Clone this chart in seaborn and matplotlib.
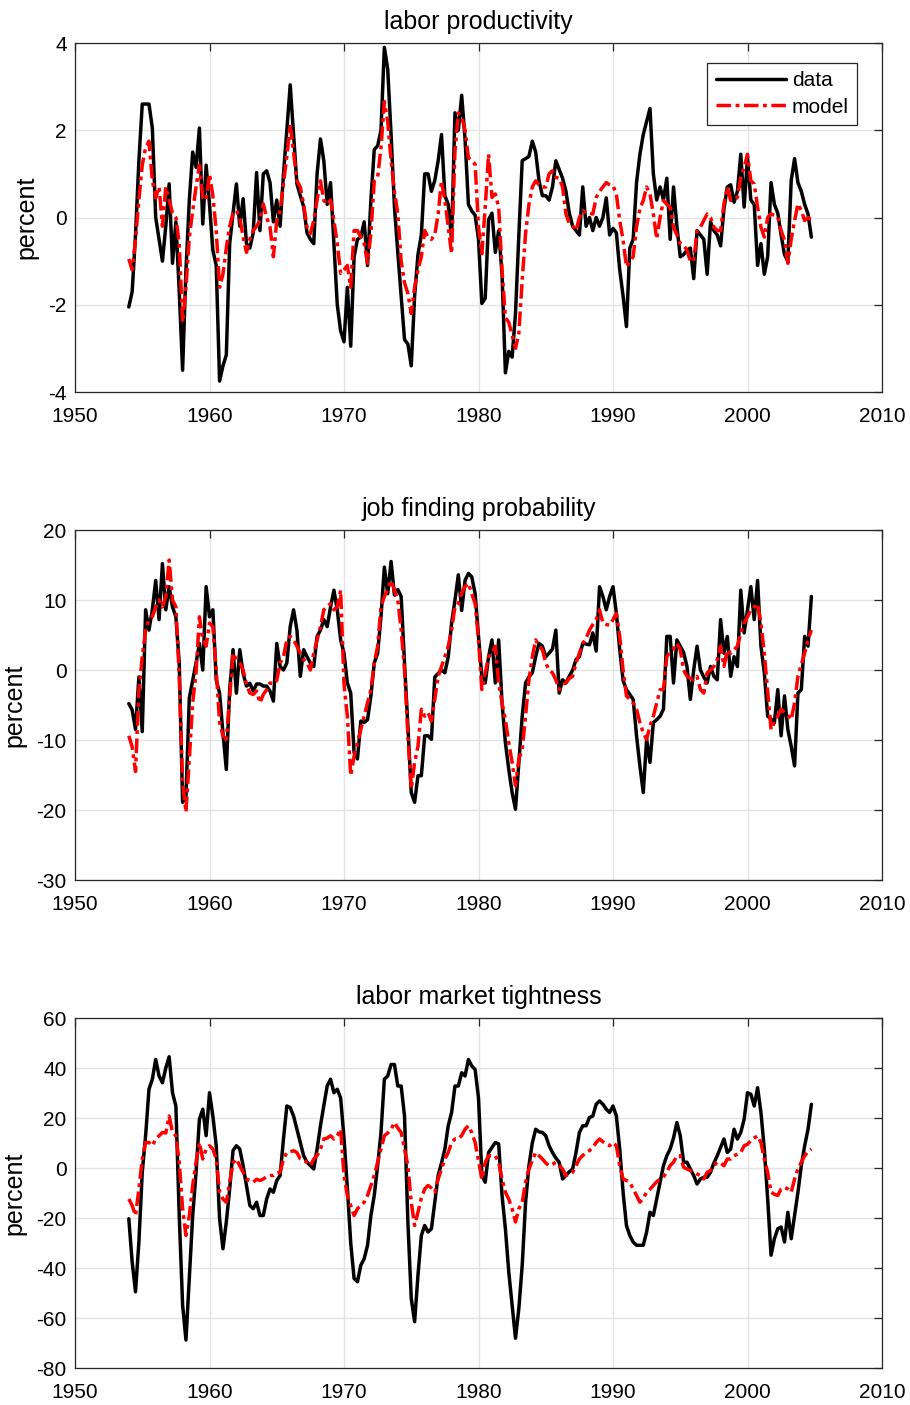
import numpy as np
import pandas as pd
import matplotlib
matplotlib.use("Agg")
import matplotlib.pyplot as plt
import seaborn as sns

# ---------------- data (quarterly, 1954Q1 - 2004Q4) ----------------
start_year = 1954

prod_data = [
    -2.05, -1.7, -0.4, 1.3,   2.6, 2.6, 2.6, 2.05,   0.0, -0.5, -1.0, -0.2,   0.77, -1.05, -0.1, -1.7,
    -3.5, -1.2, 0.4, 1.5,   1.15, 2.05, -0.15, 1.2,   0.3, -0.75, -1.1, -3.75,   -3.4, -3.15, -0.6, 0.1,
    0.77, -0.2, 0.43, -0.6,   -0.7, -0.35, 1.03, -0.3,   1.0, 1.07, 0.8, -0.1,   0.4, -0.2, 1.0, 2.0,
    3.04, 1.9, 0.77, 0.5,   0.25, -0.35, -0.5, -0.6,   1.0, 1.8, 1.3, 0.3,   0.8, -0.6, -2.0, -2.6,
    -2.85, -1.6, -2.95, -0.9,   -0.5, -0.45, -0.1, -1.1,   0.4, 1.56, 1.64, 2.0,   3.9, 3.4, 1.9, 0.25,
    -0.8, -1.8, -2.8, -2.9,   -3.4, -1.8, -0.85, -0.4,   1.0, 1.0, 0.6, 0.85,   1.3, 1.9, 0.5, 0.3,
    -0.5, 2.4, 2.0, 2.8,   1.8, 0.3, 0.15, 0.05,   -0.5, -1.97, -1.85, -0.05,   0.1, -0.8, -0.3, -1.3,
    -3.56, -3.07, -3.2, -2.2,   -0.4, 1.3, 1.35, 1.4,   1.75, 1.5, 0.84, 0.5,   0.5, 0.4, 0.7, 1.3,
    1.1, 0.9, 0.6, 0.1,   -0.2, -0.3, -0.4, 0.7,   -0.2, 0.0, -0.3, 0.0,   -0.2, 0.0, 0.45, -0.4,
    -0.25, -0.35, -1.2, -1.8,   -2.5, -0.7, -0.5, 0.8,   1.45, 1.9, 2.2, 2.5,   1.0, 0.4, 0.7, 0.4,
    0.9, -0.5, 0.7, -0.2,   -0.9, -0.85, -0.75, -0.7,   -1.4, -0.3, -0.4, -0.5,   -1.3, -0.1, -0.3, -0.4,
    -0.65, 0.2, 0.7, 0.75,   0.35, 0.6, 1.45, 0.24,   1.37, 0.4, 0.3, -1.1,   -0.6, -1.3, -0.9, 0.8,
    0.3, 0.1, -0.4, -0.85,   -1.0, 0.85, 1.35, 0.8,   0.6, 0.3, 0.08, -0.45,
]

prod_model = [
    -0.95, -1.2, -0.5, 0.4,   1.2, 1.6, 1.75, 0.85,   0.45, 0.7, -0.2, 0.7,   0.4, 0.1, 0.0, -0.6,
    -2.4, -1.6, -0.45, 0.15,   0.7, 1.2, 0.45, 0.4,   1.0, 0.5, -0.3, -1.6,   -1.3, -0.7, -0.2, 0.1,
    0.16, 0.0, -0.45, -0.8,   -0.5, -0.3, -0.2, -0.07,   0.31, 0.0, -0.22, -0.9,   -0.07, 0.16, 0.77, 1.4,
    2.13, 1.5, 0.84, 0.7,   0.3, -0.22, -0.37, -0.07,   0.4, 0.84, 0.39, 0.3,   0.4, -0.07, -0.6, -1.28,
    -1.2, -1.1, -1.6, -0.3,   -0.3, -0.45, -0.6, -1.05,   -0.37, 0.84, 0.92, 1.6,   2.66, 2.2, 1.3, 0.6,
    0.08, -1.0, -1.5, -1.74,   -2.2, -1.6, -1.2, -0.9,   -0.3, -0.45, -0.5, -0.4,   0.08, 0.84, 0.39, -0.22,
    -0.83, 1.52, 2.4, 2.3,   2.0, 1.37, 1.3, 1.22,   -0.22, -0.83, 0.24, 1.45,   0.46, 0.54, 0.24, -1.2,
    -2.3, -2.4, -2.7, -3.0,   -2.65, -1.43, -0.37, 0.3,   0.7, 0.84, 0.75, 0.7,   0.7, 1.0, 1.07, 0.92,
    0.9, 0.7, 0.08, -0.14,   -0.2, -0.3, 0.0, 0.16,   0.1, 0.1, 0.08, 0.46,   0.6, 0.7, 0.8, 0.75,
    0.73, 0.54, -0.07, -0.52,   -1.13, -1.0, -0.9, -0.22,   0.2, 0.39, 0.7, 0.54,   0.08, -0.49, 0.0, 0.39,
    0.3, 0.24, -0.22, -0.4,   -0.6, -0.64, -0.75, -1.0,   -1.0, -0.3, -0.22, -0.07,   0.08, 0.0, -0.22, -0.3,
    -0.3, 0.31, 0.7, 0.39,   0.4, 0.46, 0.92, 1.15,   1.45, 0.84, 0.77, 0.24,   -0.22, -0.45, 0.0, 0.08,
    0.05, 0.0, -0.3, -0.52,   -1.05, -0.5, -0.07, 0.31,   0.16, -0.07, 0.0, -0.05,
]

find_data = [
    -4.8, -5.7, -8.5, -1.0,   -8.8, 8.6, 5.7, 8.6,   12.8, 7.2, 15.2, 8.6,   11.9, 9.0, 7.6, 1.0,
    -18.9, -18.0, -4.0, -1.5,   1.0, 3.8, 0.0, 11.9,   7.6, 8.6, -1.4, -3.3,   -9.0, -14.2, -2.8, 2.9,
    -3.3, 2.9, -0.5, -2.3,   -1.9, -3.0, -2.0, -2.0,   -2.3, -2.3, -3.0, -4.45,   3.8, 0.5, 0.0, 1.0,
    6.2, 8.6, 5.7, -0.9,   2.9, 1.9, 1.0, 0.5,   4.8, 5.7, 7.2, 6.2,   9.0, 11.4, 8.6, 4.3,
    2.4, -1.85, -3.3, -11.8,   -12.7, -7.3, -7.5, -7.1,   -3.7, 1.0, 2.4, 7.6,   14.7, 10.9, 15.5, 10.7,
    11.5, 10.5, 1.0, -8.0,   -17.5, -18.9, -15.1, -15.1,   -9.4, -9.4, -9.9, -1.0,   -0.5, 0.0, -0.4, 1.9,
    6.7, 10.0, 13.6, 8.5,   12.8, 13.8, 13.3, 10.9,   4.8, -0.9, -1.85, 1.9,   4.3, -1.85, 4.3, -4.7,
    -10.4, -14.2, -17.5, -19.9,   -13.2, -6.6, -1.85, -1.0,   -0.4, 1.9, 3.8, 3.4,   1.9, 2.4, 3.0, 5.7,
    -3.3, -1.4, -1.85, -0.9,   0.0, 1.5, 1.9, 3.8,   3.7, 3.6, 5.3, 2.7,   11.9, 10.5, 8.6, 10.5,
    11.9, 8.1, 2.9, -1.5,   -2.8, -3.5, -4.2, -9.4,   -13.7, -17.5, -9.9, -13.2,   -7.5, -7.1, -6.6, -5.6,
    4.8, 4.8, -1.85, 4.3,   3.4, 2.5, 0.5, -4.2,   0.0, 3.4, 0.0, -1.0,   -1.85, 0.5, -0.9, -1.4,
    7.2, 2.4, 4.8, -0.9,   1.9, 0.5, 11.4, 5.3,   8.6, 11.9, 7.2, 12.8,   3.4, -0.4, -6.6, -7.0,
    -7.5, -2.8, -9.4, -3.7,   -8.5, -10.9, -13.7, -3.3,   -2.8, 4.8, 3.4, 10.5,
]

find_model = [
    -9.4, -11.0, -14.5, -3.0,   1.9, 5.7, 7.2, 7.6,   9.0, 10.0, 9.0, 10.5,   15.7, 10.0, 9.0, -0.9,
    -16.1, -20.3, -12.7, -4.7,   -0.4, 7.6, 4.3, 3.4,   6.7, 6.2, 0.0, -7.5,   -9.4, -9.9, -4.0, 2.4,
    1.5, 1.0, 0.0, -2.0,   -3.3, -3.5, -3.0, -4.7,   -3.5, -2.8, -1.85, -2.0,   -1.5, 1.0, 1.9, 4.3,
    4.8, 4.3, 3.4, 2.4,   1.5, 1.0, 0.0, 2.4,   4.3, 6.2, 8.6, 9.0,   9.5, 8.6, 9.0, 11.4,
    -2.0, -6.6, -15.1, -12.3,   -10.4, -8.5, -6.6, -4.7,   -2.8, 1.0, 3.4, 9.05,   10.5, 11.5, 12.8, 11.4,
    10.0, 5.7, 0.0, -9.4,   -17.0, -13.2, -10.9, -5.6,   -6.6, -6.1, -7.3, -4.2,   -0.9, 0.5, 1.9, 3.4,
    5.7, 9.05, 9.5, 11.0,   11.9, 12.4, 10.9, 9.5,   4.3, -2.8, -0.4, 1.9,   2.4, 3.4, -1.85, -4.7,
    -7.1, -10.4, -13.2, -16.5,   -12.7, -11.3, -6.6, -1.4,   1.9, 4.3, 3.4, 2.9,   1.0, 0.0, -0.4, -1.4,
    -2.8, -2.0, -1.85, -1.2,   -0.9, 1.0, 2.4, 3.8,   4.5, 5.7, 6.5, 7.2,   8.6, 6.7, 6.5, 6.4,
    7.2, 8.1, 4.8, 0.0,   -3.7, -4.2, -4.7, -5.6,   -7.5, -9.0, -9.9, -8.0,   -6.6, -4.7, -2.8, -2.8,
    1.9, 2.5, 3.0, 3.8,   2.9, 0.0, -0.9, -1.2,   -1.4, -0.9, -2.8, -3.3,   -0.4, 0.0, 0.5, 1.5,
    3.4, 0.5, 2.9, 2.4,   2.9, 3.4, 5.3, 6.7,   7.6, 8.6, 9.0, 9.5,   6.7, 2.4, -3.0, -8.5,
    -7.5, -6.6, -5.6, -6.1,   -6.5, -7.1, -4.7, -0.9,   0.8, 2.4, 4.3, 5.7,
]

tight_data = [
    -20.3, -37.6, -49.5, -29.6,   -1.7, 12.9, 31.5, 35.5,   43.4, 36.8, 34.1, 40.0,   44.5, 30.1, 24.8, -19.0,
    -54.8, -68.8, -44.2, -19.0,   -1.7, 19.5, 23.5, 12.9,   30.1, 20.8, 8.9, -20.3,   -32.3, -21.6, -8.4, 7.0,
    8.9, 7.6, 0.9, -7.0,   -15.0, -16.3, -13.7, -19.0,   -19.0, -12.4, -8.4, -9.7,   -5.0, -3.0, 11.6, 24.8,
    24.2, 20.8, 15.5, 10.2,   4.9, 2.3, 1.0, -0.4,   7.6, 16.9, 25.0, 32.8,   35.5, 30.1, 31.5, 28.0,
    12.0, -8.0, -30.0, -44.2,   -45.5, -38.9, -36.3, -30.9,   -19.0, -11.0, 0.9, 14.2,   35.5, 36.8, 41.4, 41.4,
    32.8, 32.8, 20.8, -21.6,   -52.2, -61.5, -42.9, -27.0,   -23.0, -25.6, -24.3, -13.7,   -3.0, 2.0, 7.6, 16.9,
    22.2, 32.8, 32.8, 38.1,   36.8, 43.4, 40.8, 39.4,   28.0, -3.0, -5.7, 6.2,   8.2, 10.2, 9.6, -11.0,
    -24.3, -41.6, -54.8, -68.1,   -56.2, -38.9, -13.7, 0.9,   10.0, 15.5, 14.5, 14.2,   12.9, 8.9, 6.2, 4.0,
    2.3, -4.4, -3.0, -1.5,   -0.4, 6.2, 14.2, 16.9,   16.9, 20.2, 20.8, 25.5,   26.8, 25.5, 23.5, 22.2,
    24.8, 20.8, 7.6, -9.7,   -23.0, -27.0, -29.6, -30.9,   -30.9, -30.9, -25.6, -17.7,   -19.0, -12.4, -5.7, 0.9,
    4.9, 7.6, 12.0, 18.2,   12.9, 2.3, 2.3, -0.4,   -3.0, -6.4, -4.4, -3.7,   -3.7, -1.7, 2.0, 4.9,
    8.2, 11.6, 6.2, 7.6,   15.5, 11.6, 14.2, 19.5,   30.1, 29.5, 24.8, 32.1,   22.2, 7.6, -12.4, -34.9,
    -28.3, -24.3, -23.6, -29.6,   -17.7, -28.3, -19.0, -9.7,   0.9, 8.9, 15.5, 25.5,
]

tight_model = [
    -12.4, -15.0, -19.0, -8.4,   3.6, 10.2, 10.2, 8.9,   11.6, 12.9, 14.2, 14.0,   20.8, 14.2, 12.9, 2.3,
    -16.3, -27.0, -19.0, -7.0,   2.3, 10.2, 3.6, 7.6,   8.9, 7.6, 3.6, -9.7,   -12.4, -13.7, -5.7, 2.0,
    3.6, 0.9, -1.7, -4.4,   -5.0, -5.7, -4.5, -5.0,   -4.4, -3.5, -3.0, -3.0,   -2.0, -1.7, 3.6, 6.2,
    6.5, 6.9, 6.2, 3.6,   3.0, 2.3, 0.9, 3.6,   5.0, 7.6, 11.6, 12.0,   12.9, 11.6, 13.0, 15.5,
    -3.0, -11.0, -15.0, -19.0,   -16.3, -15.0, -13.7, -11.0,   -7.0, -3.0, 2.3, 7.6,   12.9, 14.0, 15.5, 18.2,
    16.0, 14.2, 7.6, 0.9,   -13.7, -23.0, -17.7, -12.0,   -8.4, -7.0, -8.0, -9.7,   -4.4, -0.4, 3.6, 6.2,
    10.2, 11.6, 11.6, 13.0,   15.5, 16.9, 14.2, 10.2,   3.0, -4.4, 2.3, 4.9,   4.9, 4.9, 2.3, -4.4,
    -9.7, -12.4, -16.3, -21.6,   -16.3, -13.7, -5.7, -0.4,   3.0, 6.2, 4.9, 3.6,   2.0, 0.9, 1.5, 2.3,
    1.0, -0.4, -3.0, -2.5,   -1.7, 0.9, 3.6, 5.0,   6.2, 7.0, 8.2, 10.2,   11.6, 10.5, 9.6, 8.9,
    10.2, 8.9, 0.9, -4.4,   -5.0, -5.7, -8.4, -11.0,   -13.7, -12.0, -9.7, -8.5,   -7.0, -5.5, -4.4, -3.5,
    -1.7, 1.0, 2.3, 4.9,   4.9, 0.3, -0.4, -1.0,   -1.7, -2.4, -3.0, -4.4,   -1.7, -1.0, 0.9, 2.3,
    2.0, 0.9, 3.6, 3.6,   4.9, 5.5, 6.2, 8.9,   9.5, 10.9, 12.0, 12.9,   10.2, 3.6, -1.7, -9.7,
    -10.5, -11.0, -8.4, -7.7,   -8.4, -9.7, -4.4, -0.4,   2.3, 4.9, 6.5, 7.6,
]

titles = ["labor productivity", "job finding probability", "labor market tightness"]
x_ticks = [1950, 1960, 1970, 1980, 1990, 2000, 2010]
y_ticks_list = [
    [-4, -2, 0, 2, 4],
    [-30, -20, -10, 0, 10, 20],
    [-80, -60, -40, -20, 0, 20, 40, 60],
]
series_labels = ["data", "model"]

# ---------------- style ----------------
sns.set_style("white")
plt.rcParams['font.family'] = ['Liberation Sans', 'DejaVu Sans']
plt.rcParams['axes.unicode_minus'] = False
plt.rcParams['text.color'] = 'black'
plt.rcParams['axes.labelcolor'] = 'black'
plt.rcParams['axes.titlecolor'] = 'black'

W, H = 910, 1405
fig = plt.figure(figsize=(W / 100, H / 100), dpi=100)

left_px, right_px = 75, 882
tops = [43, 530, 1018]
bottoms = [392, 880, 1368]

quarters = start_year + np.arange(len(prod_data)) / 4.0
all_series = [(prod_data, prod_model), (find_data, find_model), (tight_data, tight_model)]

for k in range(3):
    rect = [left_px / W, 1 - bottoms[k] / H, (right_px - left_px) / W, (bottoms[k] - tops[k]) / H]
    ax = fig.add_axes(rect)
    d, m = all_series[k]
    df = pd.DataFrame({"year": quarters, series_labels[0]: d, series_labels[1]: m})

    sns.lineplot(data=df, x="year", y=series_labels[0], ax=ax, color="black",
                 linewidth=2.5, label=series_labels[0], estimator=None, sort=False)
    sns.lineplot(data=df, x="year", y=series_labels[1], ax=ax, color="#ff0000",
                 linewidth=2.5, linestyle=(0, (4.2, 1.3, 1.1, 1.3)),
                 label=series_labels[1], estimator=None, sort=False)

    yt = y_ticks_list[k]
    ax.set_xlim(1950, 2010)
    ax.set_ylim(yt[0], yt[-1])
    ax.set_xticks(x_ticks)
    ax.set_yticks(yt)
    ax.set_xticklabels([str(v) for v in x_ticks])
    ax.set_yticklabels([str(v) for v in yt])
    ax.set_xlabel("")
    ax.set_ylabel("percent", fontsize=18, labelpad=7, color="black")
    ax.set_title(titles[k], fontsize=18, pad=10, color="black")

    ax.grid(True, color="#e3e3e3", linewidth=1.0)
    ax.set_axisbelow(True)
    for sp in ax.spines.values():
        sp.set_visible(True)
        sp.set_color("#262626")
        sp.set_linewidth(0.9)
    ax.tick_params(direction="in", top=True, right=True, length=5.5, width=0.9,
                   color="#262626", labelsize=15, labelcolor="black")
    ax.tick_params(axis="x", pad=11)
    ax.tick_params(axis="y", pad=6)

    if k == 0:
        leg = ax.legend(loc="upper right", bbox_to_anchor=(0.969, 0.943), fontsize=15,
                        frameon=True, fancybox=False, framealpha=1, edgecolor="#262626",
                        handlelength=3.4, borderaxespad=0, borderpad=0.4,
                        labelspacing=0.35, handletextpad=0.25)
        leg.get_frame().set_linewidth(0.9)
        for t in leg.get_texts():
            t.set_color("black")
    else:
        lg = ax.get_legend()
        if lg is not None:
            lg.remove()

fig.savefig("out.png", dpi=100)
